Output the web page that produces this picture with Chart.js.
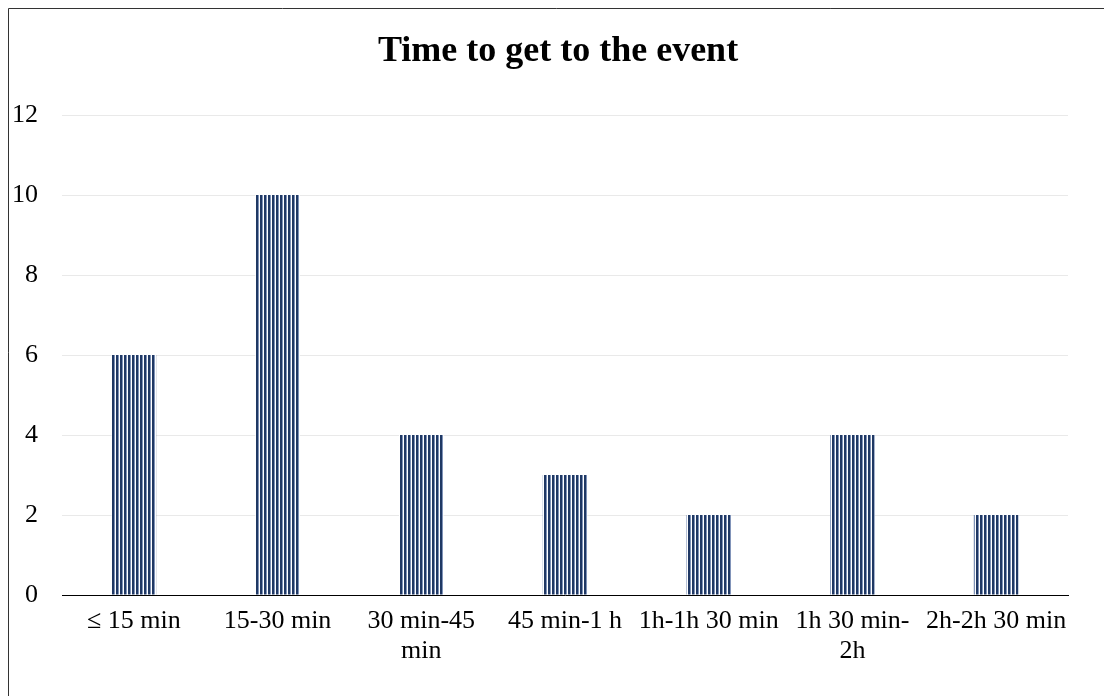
<!DOCTYPE html>
<html>
<head>
<meta charset="utf-8">
<script src="https://cdn.jsdelivr.net/npm/chart.js@4.4.0/dist/chart.umd.min.js"></script>
<style>
  html, body { margin: 0; padding: 0; background: #fff; }
  #wrap { position: relative; width: 1104px; height: 696px; }
</style>
</head>
<body>
<div id="wrap"><canvas id="chart" width="1104" height="696"></canvas></div>
<script>
const categories = ['≤ 15 min', '15-30 min', ['30 min-45', 'min'], '45 min-1 h', '1h-1h 30 min', ['1h 30 min-', '2h'], '2h-2h 30 min'];
const counts = [6, 10, 4, 3, 2, 4, 2];
const yTicks = [0, 2, 4, 6, 8, 10, 12];
const chartTitle = 'Time to get to the event';
const serif = '"Liberation Serif", "Times New Roman", serif';

// vertical stripe fill like the original
function stripes() {
    const c = document.createElement('canvas');
    c.width = 4; c.height = 1;
    const g = c.getContext('2d');
    g.fillStyle = '#ffffff'; g.fillRect(0, 0, 4, 1);
    g.fillStyle = '#1f3864'; g.fillRect(0, 0, 2, 1);
    g.fillStyle = '#7f93b8'; g.fillRect(2, 0, 1, 1);
    return g.createPattern(c, 'repeat');
}

// frame and title (title sits a bit right of the canvas centre in the original)
const frame = {
    id: 'frame',
    afterDraw(chart) {
        const ctx = chart.ctx;
        ctx.save();
        ctx.strokeStyle = '#333';
        ctx.lineWidth = 1;
        ctx.beginPath();
        ctx.moveTo(8.5, 700);
        ctx.lineTo(8.5, 8.5);
        ctx.lineTo(1110, 8.5);
        ctx.stroke();
        ctx.fillStyle = '#000';
        ctx.font = 'bold 36px ' + serif;
        ctx.textAlign = 'center';
        ctx.textBaseline = 'middle';
        ctx.fillText(chartTitle, 558, 52);
        ctx.restore();
    }
};

const ctx = document.getElementById('chart').getContext('2d');
new Chart(ctx, {
    type: 'bar',
    data: {
        labels: categories,
        datasets: [{
            data: counts,
            backgroundColor: stripes(),
            borderWidth: 0,
            barPercentage: 0.31,
            categoryPercentage: 1
        }]
    },
    options: {
        responsive: false,
        animation: false,
        layout: { padding: { left: 0, right: 36, top: 115, bottom: 0 } },
        plugins: {
            legend: { display: false },
            tooltip: { enabled: false },
            title: { display: false }
        },
        scales: {
            x: {
                grid: { display: false, drawTicks: false },
                border: { display: true, color: '#000', width: 1 },
                ticks: {
                    color: '#000',
                    maxRotation: 0,
                    autoSkip: false,
                    padding: 11,
                    font: { family: serif, size: 26, lineHeight: 1.15 }
                },
                afterFit(scale) { scale.height = 101; }
            },
            y: {
                min: 0,
                max: 12,
                afterBuildTicks(scale) { scale.ticks = yTicks.map(v => ({ value: v })); },
                grid: { color: '#e9e9e9', drawTicks: false },
                border: { display: false },
                ticks: {
                    color: '#000',
                    padding: 24,
                    font: { family: serif, size: 26 }
                },
                afterFit(scale) { scale.width = 62; }
            }
        }
    },
    plugins: [frame]
});
</script>
</body>
</html>
